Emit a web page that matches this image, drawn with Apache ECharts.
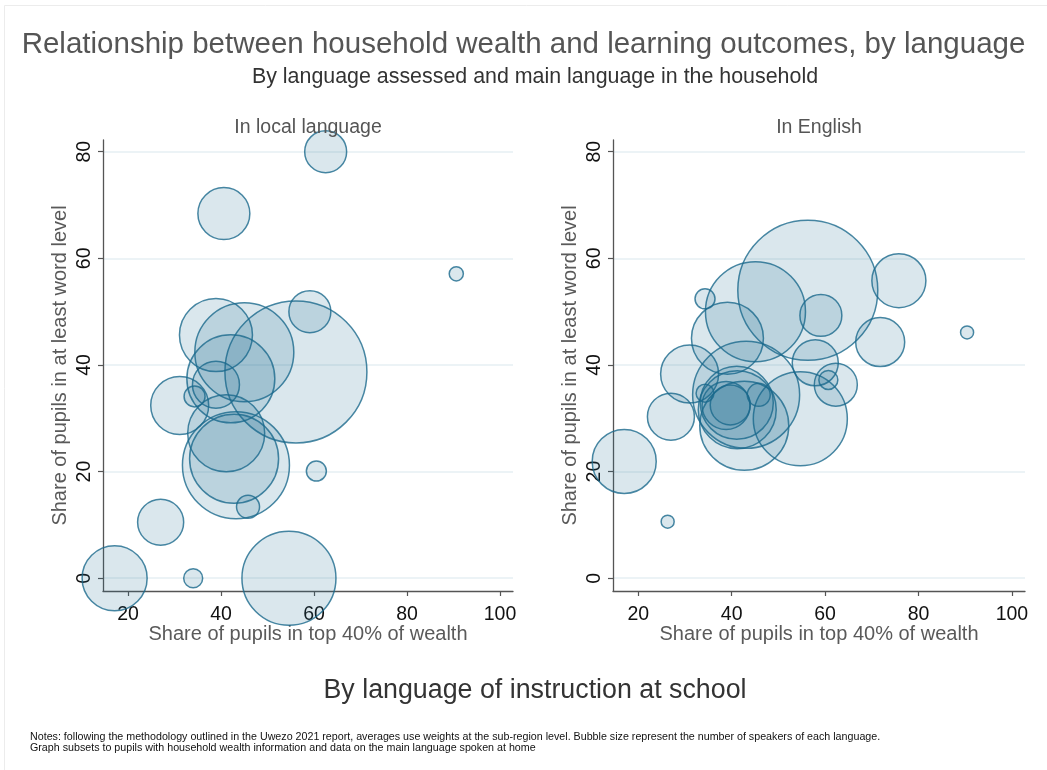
<!DOCTYPE html>
<html>
<head>
<meta charset="utf-8">
<script src="https://cdn.jsdelivr.net/npm/echarts@6/dist/echarts.min.js"></script>
<style>
html,body{margin:0;padding:0;background:#fff;}
#chart{width:1047px;height:770px;}
</style>
</head>
<body>
<div id="chart"></div>
<script>
// ---- Data (x: share in top 40% of wealth, y: share at least word level, w: speakers, relative) ----
const localX = [62.5, 40.6, 90.6, 59.1, 38.9, 45.0, 56.1, 42.1, 38.9, 31.1, 34.3, 41.1, 42.8, 43.2, 60.5, 45.8, 27.0, 17.1, 34.0, 54.6];
const localY = [80.0, 68.4, 57.1, 50.0, 45.6, 42.4, 38.7, 37.4, 36.3, 32.4, 34.1, 27.2, 22.4, 21.2, 20.1, 13.4, 10.5, 0.0, 0.0, 0.0];
const localW = [176, 270, 20, 176, 533, 980, 2016, 774, 221, 336, 44, 593, 792, 1145, 40, 53, 212, 423, 36, 884];

const engX = [56.3, 75.8, 34.3, 45.1, 59.1, 39.1, 71.8, 90.4, 57.9, 62.3, 60.7, 31.0, 43.1, 54.7, 27.0, 17.0, 26.3, 42.7, 41.2, 41.1, 38.8, 39.7, 34.3, 45.8];
const engY = [54.0, 55.8, 52.4, 50.0, 49.3, 45.0, 44.3, 46.1, 40.4, 36.3, 37.2, 38.3, 34.4, 29.9, 30.3, 21.9, 10.6, 28.6, 31.6, 32.9, 32.4, 32.5, 34.7, 34.4];
const engW = [1960, 292, 40, 1000, 176, 518, 240, 17, 212, 185, 36, 336, 1145, 884, 221, 410, 17, 792, 608, 533, 230, 160, 32, 53];

const xTicks = [20, 40, 60, 80, 100];
const yTicks = [0, 20, 40, 60, 80];

const panelTitles = ['In local language', 'In English'];
const mainTitle = 'Relationship between household wealth and learning outcomes, by language';
const subTitle = 'By language assessed and main language in the household';
const xName = 'Share of pupils in top 40% of wealth';
const yName = 'Share of pupils in at least word level';
const bottomTitle = 'By language of instruction at school';
const notes = 'Notes: following the methodology outlined in the Uwezo 2021 report, averages use weights at the sub-region level. Bubble size represent the number of speakers of each language.\nGraph subsets to pupils with household wealth information and data on the main language spoken at home';

// ---- Build ----
const FONT = '"Liberation Sans", Arial, Helvetica, sans-serif';
const zip = (xs, ys, ws) => xs.map((x, i) => [x, ys[i], ws[i]]);
const sizeFn = v => Math.sqrt(v[2] * 10);

const axisLineColor = '#555';
function xAxis(idx) {
  return {
    gridIndex: idx, type: 'value', min: 14.6, max: 102.8,
    name: xName, nameLocation: 'middle', nameGap: 33, nameMoveOverlap: false,
    nameTextStyle: { fontFamily: FONT, fontSize: 20, color: '#5a5a5a' },
    axisLine: { show: true, onZero: false, lineStyle: { color: axisLineColor, width: 1.3 } },
    axisTick: { show: true, length: 5, customValues: xTicks, lineStyle: { color: axisLineColor, width: 1.2 } },
    axisLabel: { customValues: xTicks, margin: 14, fontFamily: FONT, fontSize: 19.5, color: '#111' },
    splitLine: { show: false }
  };
}
function yAxis(idx) {
  return {
    gridIndex: idx, type: 'value', min: -2.4, max: 82.2,
    name: yName, nameLocation: 'middle', nameGap: 33, nameMoveOverlap: false,
    nameTextStyle: { fontFamily: FONT, fontSize: 20, color: '#5a5a5a' },
    axisLine: { show: true, onZero: false, lineStyle: { color: axisLineColor, width: 1.3 } },
    axisTick: { show: true, length: 5, customValues: yTicks, lineStyle: { color: axisLineColor, width: 1.2 } },
    axisLabel: { customValues: yTicks, rotate: 90, margin: 8, fontFamily: FONT, fontSize: 19.5, color: '#111' },
    splitLine: { show: true, lineStyle: { color: '#e6eff3', width: 1.5 } }
  };
}
const bubbleStyle = {
  color: 'rgba(26,105,140,0.2)',
  borderColor: 'rgb(26,105,140)',
  borderWidth: 1.5
};

const chart = echarts.init(document.getElementById('chart'), null, { renderer: 'canvas' });
chart.setOption({
  backgroundColor: '#fff',
  animation: false,
  title: [
    { text: mainTitle, left: 'center', top: 25, textStyle: { fontFamily: FONT, fontSize: 29.5, fontWeight: 'normal', color: '#555' } },
    { text: subTitle, left: 530, textAlign: 'center', top: 62, textStyle: { fontFamily: FONT, fontSize: 21.4, fontWeight: 'normal', color: '#333' } },
    { text: panelTitles[0], left: 303, textAlign: 'center', top: 113, textStyle: { fontFamily: FONT, fontSize: 19.5, fontWeight: 'normal', color: '#555' } },
    { text: panelTitles[1], left: 814, textAlign: 'center', top: 113, textStyle: { fontFamily: FONT, fontSize: 19.5, fontWeight: 'normal', color: '#555' } },
    { text: bottomTitle, left: 530, textAlign: 'center', top: 672, textStyle: { fontFamily: FONT, fontSize: 26.8, fontWeight: 'normal', color: '#333' } },
    { text: notes, left: 25, top: 727, textStyle: { fontFamily: FONT, fontSize: 10.7, lineHeight: 11, fontWeight: 'normal', color: '#111' } }
  ],
  graphic: [
    { type: 'rect', shape: { x: 4.5, y: 5.5, width: 1100, height: 800 }, style: { fill: null, stroke: '#ececec', lineWidth: 1 }, silent: true }
  ],
  grid: [
    { left: 103, right: 534, top: 140, bottom: 179 },
    { left: 613, right: 22, top: 140, bottom: 179 }
  ],
  xAxis: [xAxis(0), xAxis(1)],
  yAxis: [yAxis(0), yAxis(1)],
  series: [
    { type: 'scatter', xAxisIndex: 0, yAxisIndex: 0, data: zip(localX, localY, localW), symbolSize: sizeFn, itemStyle: bubbleStyle, clip: false },
    { type: 'scatter', xAxisIndex: 1, yAxisIndex: 1, data: zip(engX, engY, engW), symbolSize: sizeFn, itemStyle: bubbleStyle, clip: false }
  ]
});
</script>
</body>
</html>
